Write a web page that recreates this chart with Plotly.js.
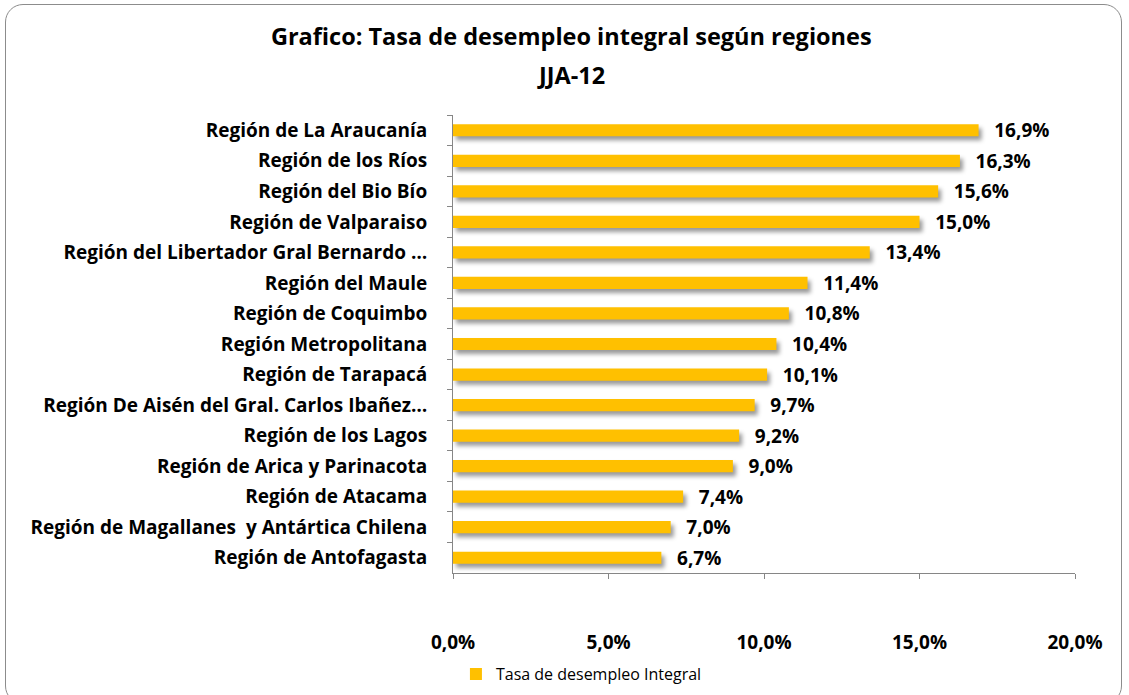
<!DOCTYPE html>
<html>
<head>
<meta charset="utf-8">
<script src="https://cdn.plot.ly/plotly-3.0.1.min.js"></script>
<style>
  html, body { margin: 0; padding: 0; background: #ffffff; }
  #wrap { position: relative; width: 1129px; height: 695px; }
  #chart { position: absolute; left: 0; top: 0; width: 1129px; height: 695px; }
  #frame { position: absolute; left: 5px; top: 4px; width: 1117px; height: 700px;
           border: 1.5px solid #8c8c8c; border-radius: 18px; pointer-events: none; box-sizing: border-box; }
  .barlayer .point path { filter: drop-shadow(3px 4px 2px rgba(0,0,0,0.4)); }
</style>
</head>
<body>
<div id="wrap">
  <div id="chart"></div>
  <div id="frame"></div>
</div>
<script>
const regions = [
  "Región de La Araucanía",
  "Región de los Ríos",
  "Región del Bio Bío",
  "Región de Valparaiso",
  "Región del Libertador Gral Bernardo …",
  "Región del Maule",
  "Región de Coquimbo",
  "Región Metropolitana",
  "Región de Tarapacá",
  "Región De Aisén del Gral. Carlos Ibañez…",
  "Región de los Lagos",
  "Región de Arica y Parinacota",
  "Región de Atacama",
  "Región de Magallanes  y Antártica Chilena",
  "Región de Antofagasta"
];
const tasa = [16.9, 16.3, 15.6, 15.0, 13.4, 11.4, 10.8, 10.4, 10.1, 9.7, 9.2, 9.0, 7.4, 7.0, 6.7];
const xTicks = [0, 5, 10, 15, 20];
const xTickText = xTicks.map(v => v.toFixed(1).replace(".", ",") + "%");
const seriesName = "Tasa de desempleo Integral";
const titleLine1 = "Grafico: Tasa de desempleo integral según regiones";
const titleLine2 = "JJA-12";

const FONT = "'Open Sans', Lato, sans-serif";

const trace = {
  type: "bar",
  orientation: "h",
  y: regions,
  x: tasa,
  name: seriesName,
  marker: { color: "#FFC000", line: { width: 0 } },
  width: 0.4,
  texttemplate: "\u2002\u2009%{x:.1f}%",
  textposition: "outside",
  constraintext: "none",
  cliponaxis: false,
  textfont: { family: FONT, size: 19, color: "#000000", weight: "bold" },
  hoverinfo: "skip",
  showlegend: true
};

const layout = {
  width: 1129,
  height: 695,
  paper_bgcolor: "rgba(0,0,0,0)",
  plot_bgcolor: "rgba(0,0,0,0)",
  separators: ",.",
  margin: { l: 453, r: 54, t: 115, b: 122 },
  font: { family: FONT, color: "#000000" },
  title: {
    text: titleLine1,
    x: 0.506, xanchor: "center", xref: "container",
    y: 0.947, yanchor: "middle", yref: "container",
    font: { family: FONT, size: 23.5, color: "#000000", weight: "bold" }
  },
  annotations: [{
    text: titleLine2,
    xref: "paper", yref: "paper",
    x: 0.19, y: 1.087,
    xanchor: "center", yanchor: "middle",
    showarrow: false,
    font: { family: FONT, size: 23.5, color: "#000000", weight: "bold" }
  }],
  xaxis: {
    range: [0, 20],
    tickvals: xTicks,
    ticktext: xTickText,
    showgrid: false,
    zeroline: false,
    showline: true,
    linecolor: "#868686",
    linewidth: 1,
    ticks: "outside",
    ticklen: 5,
    tickcolor: "#868686",
    ticklabelstandoff: 47,
    tickfont: { family: FONT, size: 19, color: "#000000", weight: "bold" },
    fixedrange: true
  },
  yaxis: {
    type: "category",
    autorange: "reversed",
    showgrid: false,
    zeroline: false,
    showline: true,
    linecolor: "#868686",
    linewidth: 1,
    ticks: "outside",
    ticklen: 5,
    tickcolor: "#868686",
    tickson: "boundaries",
    ticklabelstandoff: 21,
    tickfont: { family: FONT, size: 19, color: "#000000", weight: "bold" },
    fixedrange: true
  },
  showlegend: true,
  legend: {
    orientation: "h",
    xref: "container", yref: "container",
    x: 0.515, xanchor: "center",
    y: 0.03, yanchor: "middle",
    font: { family: FONT, size: 16, color: "#000000" },
    itemwidth: 30
  },
  bargap: 0.6
};

Plotly.newPlot("chart", [trace], layout, { displayModeBar: false, staticPlot: true });
</script>
</body>
</html>
